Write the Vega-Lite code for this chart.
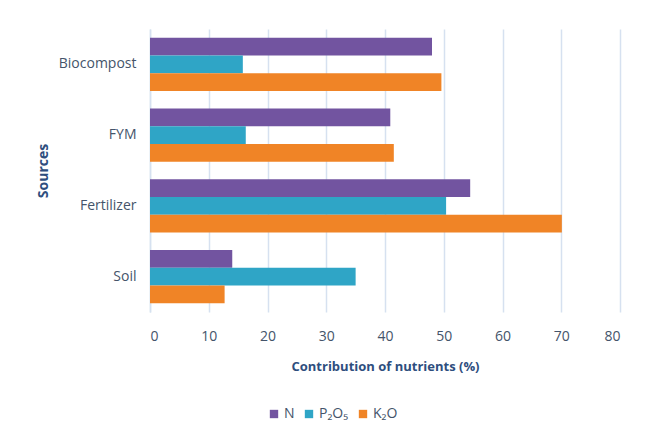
{
  "$schema": "https://vega.github.io/schema/vega-lite/v6.json",
  "autosize": "none",
  "width": 470,
  "height": 283,
  "padding": {"left": 150, "top": 29, "right": 27, "bottom": 129},
  "background": "white",
  "config": {
    "view": {"stroke": null},
    "font": "Open Sans"
  },
  "data": {
    "values": [
      {"source": "Biocompost", "nutrient": "N", "value": 48.0},
      {"source": "Biocompost", "nutrient": "P₂O₅", "value": 15.8},
      {"source": "Biocompost", "nutrient": "K₂O", "value": 49.6},
      {"source": "FYM", "nutrient": "N", "value": 40.9},
      {"source": "FYM", "nutrient": "P₂O₅", "value": 16.3},
      {"source": "FYM", "nutrient": "K₂O", "value": 41.5},
      {"source": "Fertilizer", "nutrient": "N", "value": 54.5},
      {"source": "Fertilizer", "nutrient": "P₂O₅", "value": 50.4},
      {"source": "Fertilizer", "nutrient": "K₂O", "value": 70.1},
      {"source": "Soil", "nutrient": "N", "value": 14.0},
      {"source": "Soil", "nutrient": "P₂O₅", "value": 35.0},
      {"source": "Soil", "nutrient": "K₂O", "value": 12.7}
    ]
  },
  "mark": {"type": "bar"},
  "encoding": {
    "y": {
      "field": "source",
      "type": "nominal",
      "sort": ["Biocompost", "FYM", "Fertilizer", "Soil"],
      "scale": {"paddingInner": 0.25, "paddingOuter": 0.125},
      "axis": {
        "title": "Sources",
        "titleFontSize": 14,
        "titleFontWeight": "bold",
        "titleColor": "#2E4E7E",
        "titlePadding": 8,
        "labelFontSize": 14,
        "labelColor": "#44546A",
        "labelPadding": 14,
        "ticks": false,
        "domainColor": "#D6E1F0",
        "domainWidth": 1.5
      }
    },
    "yOffset": {
      "field": "nutrient",
      "type": "nominal",
      "sort": ["N", "P₂O₅", "K₂O"],
      "scale": {"paddingInner": 0, "paddingOuter": 0}
    },
    "x": {
      "field": "value",
      "type": "quantitative",
      "scale": {"domain": [0, 80], "nice": false},
      "axis": {
        "title": "Contribution of nutrients (%)",
        "titleFontSize": 13,
        "titleFontWeight": "bold",
        "titleColor": "#2E4E7E",
        "titlePadding": 17,
        "values": [0, 10, 20, 30, 40, 50, 60, 70, 80],
        "labelFontSize": 14,
        "labelColor": "#44546A",
        "labelPadding": 17,
        "ticks": false,
        "domain": false,
        "grid": true,
        "gridColor": "#D6E1F0",
        "gridWidth": 1.5
      }
    },
    "color": {
      "field": "nutrient",
      "type": "nominal",
      "sort": ["N", "P₂O₅", "K₂O"],
      "scale": {
        "domain": ["N", "P₂O₅", "K₂O"],
        "range": ["#7254A0", "#2FA5C6", "#F08426"]
      },
      "legend": {
        "title": null,
        "orient": "none",
        "direction": "horizontal",
        "legendX": 117,
        "legendY": 378,
        "symbolType": "square",
        "symbolSize": 70,
        "labelFontSize": 14,
        "labelColor": "#44546A",
        "columnPadding": 7,
        "labelOffset": 3
      }
    }
  }
}
